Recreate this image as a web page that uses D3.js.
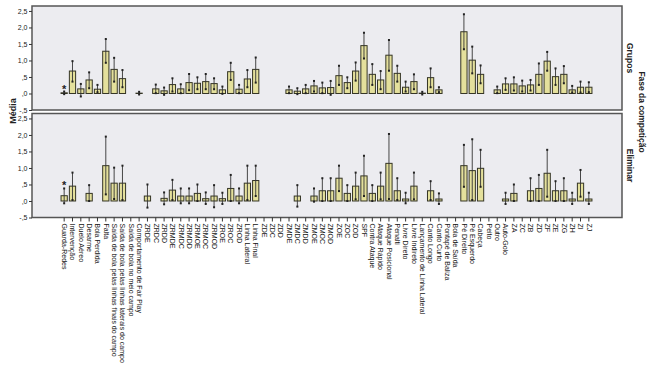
<!DOCTYPE html>
<html>
<head>
<meta charset="utf-8">
<script src="https://cdn.jsdelivr.net/npm/d3@7"></script>
<style>
  body { margin: 0; background: #fff; }
  text { font-family: "Liberation Sans", Arial, sans-serif; }
</style>
</head>
<body>
<div id="chart"></div>
<script>
// Categories (x axis)
const categories = [
  'Guarda-Redes', 'Intervenção', 'Duelo Aéreo', 'Desarme', 'Bola Perdida', 'Falta',
  'Saída de bola pelas linhas finais do campo', 'Saída de bola pelas linhas laterais do campo',
  'Saída de bola no meio campo', 'Comportamento de Fair Play',
  'ZRDE', 'ZRDC', 'ZRDD', 'ZRMDE', 'ZRMDC', 'ZRMDD', 'ZRMOE', 'ZRMOC', 'ZRMOD',
  'ZROE', 'ZROC', 'ZROD', 'Linha Lateral', 'Linha Final',
  'ZDE', 'ZDC', 'ZDD', 'ZMDE', 'ZMDC', 'ZMDD', 'ZMOE', 'ZMOC', 'ZMOD', 'ZOE', 'ZOC', 'ZOD',
  'SPF', 'Contra Ataque', 'Ataque Rápido', 'Ataque Posicional', 'Penalti', 'Livre Direto',
  'Livre Indireto', 'Lançamento de Linha Lateral', 'Canto Longo', 'Canto Curto',
  'Pontapé de Baliza', 'Bola de Saída', 'Pé Direito', 'Pé Esquerdo', 'Cabeça', 'Peito',
  'Outro', 'Auto-Golo', 'ZA', 'ZC', 'ZB', 'ZD', 'ZF', 'ZE', 'ZG', 'ZH', 'ZI', 'ZJ'
];

// Fase de competição: Grupos (mean, upper CI, lower CI)
const gruposMean = [
  0.02, 0.68, 0.14, 0.41, 0.13, 1.28, 0.73, 0.45, 0, 0.01,
  0, 0.14, 0.08, 0.27, 0.14, 0.33, 0.31, 0.36, 0.30,
  0.11, 0.66, 0.13, 0.44, 0.73,
  0, 0, 0, 0.11, 0.07, 0.14, 0.23, 0.17, 0.18, 0.54, 0.33, 0.68,
  1.45, 0.58, 0.41, 1.16, 0.61, 0.19, 0.36, 0.01, 0.48, 0.11,
  0, 0, 1.87, 1.01, 0.58, 0,
  0.11, 0.29, 0.29, 0.23, 0.26, 0.58, 0.98, 0.51, 0.58, 0.11, 0.19, 0.19
];
const gruposHi = [
  0.06, 0.98, 0.29, 0.64, 0.26, 1.65, 1.08, 0.71, null, 0.05,
  null, 0.27, 0.18, 0.46, 0.28, 0.59, 0.49, 0.59, 0.46,
  0.21, 0.93, 0.26, 0.71, 1.09,
  null, null, null, 0.21, 0.16, 0.26, 0.38, 0.33, 0.38, 0.84, 0.49, 0.94,
  1.84, 0.89, 0.68, 1.62, 0.84, 0.36, 0.58, 0.05, 0.76, 0.19,
  null, null, 2.40, 1.42, 0.85, null,
  0.21, 0.46, 0.49, 0.39, 0.41, 0.91, 1.26, 0.76, 0.83, 0.23, 0.36, 0.34
];
const gruposLo = [
  -0.02, 0.36, -0.09, 0.16, 0.04, 0.93, 0.36, 0.19, null, -0.03,
  null, 0.01, -0.04, 0.06, 0.01, 0.10, 0.13, 0.13, 0.13,
  -0.01, 0.41, 0.01, 0.19, 0.33,
  null, null, null, 0.01, -0.02, 0.01, 0.06, 0.01, -0.04, 0.26, 0.16, 0.39,
  1.06, 0.26, 0.13, 0.69, 0.36, 0.06, 0.13, -0.03, 0.19, 0.04,
  null, null, 1.34, 0.61, 0.31, null,
  0.01, 0.11, 0.09, 0.06, 0.09, 0.26, 0.69, 0.26, 0.31, 0.03, 0.03, 0.04
];

// Fase de competição: Eliminar
const eliminarMean = [
  0.16, 0.45, 0, 0.23, 0, 1.07, 0.54, 0.54, 0, 0,
  0.15, 0, 0.08, 0.33, 0.15, 0.15, 0.23, 0.07, 0.15,
  0.07, 0.38, 0.15, 0.54, 0.62,
  0, 0, 0, 0, 0.15, 0, 0.15, 0.31, 0.31, 0.69, 0.23, 0.45,
  0.76, 0.23, 0.45, 1.14, 0.31, 0.06, 0.45, 0, 0.31, 0.06,
  0, 0, 1.07, 0.92, 0.99, 0,
  0, 0.06, 0.23, 0, 0.31, 0.38, 0.84, 0.31, 0.31, 0.06, 0.54, 0.06
];
const eliminarHi = [
  0.38, 0.86, null, 0.48, null, 1.95, 1.01, 1.07, null, null,
  0.50, null, 0.26, 0.64, 0.38, 0.38, 0.50, 0.26, 0.48,
  0.25, 0.79, 0.38, 1.07, 1.07,
  null, null, null, null, 0.48, null, 0.38, 0.69, 0.69, 1.07, 0.48, 0.86,
  1.37, 0.48, 0.86, 2.03, 0.69, 0.25, 0.86, null, 0.60, 0.23,
  null, null, 1.70, 1.87, 1.55, null,
  null, 0.25, 0.50, null, 0.69, 0.79, 1.55, 0.60, 0.69, 0.25, 0.94, 0.25
];
const eliminarLo = [
  -0.07, 0.03, null, 0.00, null, 0.20, 0.06, 0.03, null, null,
  -0.20, null, -0.10, 0.03, -0.07, -0.07, 0.00, -0.09, -0.19,
  -0.09, 0.00, -0.07, 0.03, 0.15,
  null, null, null, null, -0.17, null, -0.02, 0.00, 0.00, 0.30, 0.00, 0.05,
  0.15, 0.00, 0.05, 0.06, 0.03, -0.07, 0.05, null, 0.03, -0.09,
  null, null, 0.43, 0.03, 0.43, null,
  null, -0.09, 0.00, null, 0.00, 0.00, 0.13, 0.00, 0.00, -0.09, 0.13, -0.09
];

// Y tick values and SPSS-style labels
const yTicks = [-0.5, 0, 0.5, 1, 1.5, 2, 2.5];
const yTickLabels = ['-,5', ',0', ',5', '1,0', '1,5', '2,0', '2,5'];

const width = 650;
const height = 369;
const plotLeft = 32;
const plotRight = 622;

const svg = d3.select('#chart').append('svg')
  .attr('width', width)
  .attr('height', height);

const xScale = d3.scaleBand()
  .domain(categories)
  .range([60, 593])
  .paddingInner(0.25)
  .paddingOuter(0.125);

const panels = [
  { name: 'Grupos', mean: gruposMean, hi: gruposHi, lo: gruposLo, top: 6, bottom: 110 },
  { name: 'Eliminar', mean: eliminarMean, hi: eliminarHi, lo: eliminarLo, top: 113.5, bottom: 217.5 }
];

panels.forEach((p, pi) => {
  const yScale = d3.scaleLinear()
    .domain([-0.5, 2.65])
    .range([p.bottom, p.top]);

  const g = svg.append('g');

  // panel background
  g.append('rect')
    .attr('x', plotLeft)
    .attr('y', p.top)
    .attr('width', plotRight - plotLeft)
    .attr('height', p.bottom - p.top)
    .attr('fill', '#ececf0')
    .attr('stroke', '#555')
    .attr('stroke-width', 1.5);

  const rows = categories.map((c, i) => ({ c, m: p.mean[i], hi: p.hi[i], lo: p.lo[i] }));

  // bars
  g.selectAll('rect.bar')
    .data(rows)
    .enter().append('rect')
    .attr('class', 'bar')
    .attr('x', d => xScale(d.c))
    .attr('y', d => yScale(Math.max(0, d.m)))
    .attr('width', xScale.bandwidth())
    .attr('height', d => Math.abs(yScale(0) - yScale(d.m)))
    .attr('fill', '#e4e09c')
    .attr('stroke', '#353525')
    .attr('stroke-width', 1);

  // error bars
  const eb = rows.filter(d => d.hi !== null);
  const cx = d => xScale(d.c) + xScale.bandwidth() / 2;
  g.selectAll('line.err')
    .data(eb)
    .enter().append('line')
    .attr('x1', cx).attr('x2', cx)
    .attr('y1', d => yScale(d.hi))
    .attr('y2', d => yScale(d.lo))
    .attr('stroke', '#333')
    .attr('stroke-width', 0.9);
  g.selectAll('rect.cap')
    .data(eb.flatMap(d => [{ c: d.c, v: d.hi }, { c: d.c, v: d.lo }]))
    .enter().append('rect')
    .attr('x', d => cx(d) - 1)
    .attr('y', d => yScale(d.v) - 1)
    .attr('width', 2)
    .attr('height', 2)
    .attr('fill', '#222');

  // asterisk over the first category
  g.append('text')
    .attr('x', cx(rows[0]))
    .attr('y', yScale(rows[0].hi) + 1)
    .attr('text-anchor', 'middle')
    .attr('font-size', 11)
    .attr('font-weight', 'bold')
    .attr('fill', '#222')
    .text('*');

  // y axis
  const yAxis = d3.axisLeft(yScale)
    .tickValues(yTicks)
    .tickSize(3)
    .tickPadding(1.5)
    .tickFormat((d, i) => yTickLabels[i]);
  const ya = g.append('g')
    .attr('transform', `translate(${plotLeft},0)`)
    .call(yAxis);
  ya.select('.domain').remove();
  ya.selectAll('line').attr('stroke', '#333');
  ya.selectAll('text')
    .attr('font-size', 7)
    .attr('fill', '#222')
    .style('font-family', '"Liberation Sans", Arial, sans-serif');

  // facet label
  g.append('text')
    .attr('transform', `translate(${plotRight + 5},${(p.top + p.bottom) / 2}) rotate(90)`)
    .attr('text-anchor', 'middle')
    .attr('font-size', 8.5)
    .attr('font-weight', 'bold')
    .attr('fill', '#222')
    .text(p.name);

  // x axis only under the bottom panel
  if (pi === panels.length - 1) {
    const xAxis = d3.axisBottom(xScale).tickSize(4).tickPadding(2);
    const xa = g.append('g')
      .attr('transform', `translate(0,${p.bottom})`)
      .call(xAxis);
    xa.select('.domain').remove();
    xa.selectAll('line').attr('stroke', '#333');
    xa.selectAll('text')
      .attr('transform', 'rotate(90)')
      .attr('x', 6)
      .attr('y', 0)
      .attr('dy', '0.32em')
      .attr('text-anchor', 'start')
      .attr('font-size', 7)
      .attr('fill', '#111')
      .style('font-family', '"Liberation Sans", Arial, sans-serif');
  }
});

// axis titles
svg.append('text')
  .attr('transform', 'translate(16,111) rotate(-90)')
  .attr('text-anchor', 'middle')
  .attr('font-size', 9)
  .attr('font-weight', 'bold')
  .attr('fill', '#222')
  .text('Média');

svg.append('text')
  .attr('transform', 'translate(639,112) rotate(90)')
  .attr('text-anchor', 'middle')
  .attr('font-size', 8.5)
  .attr('font-weight', 'bold')
  .attr('fill', '#222')
  .text('Fase da competição');
</script>
</body>
</html>
